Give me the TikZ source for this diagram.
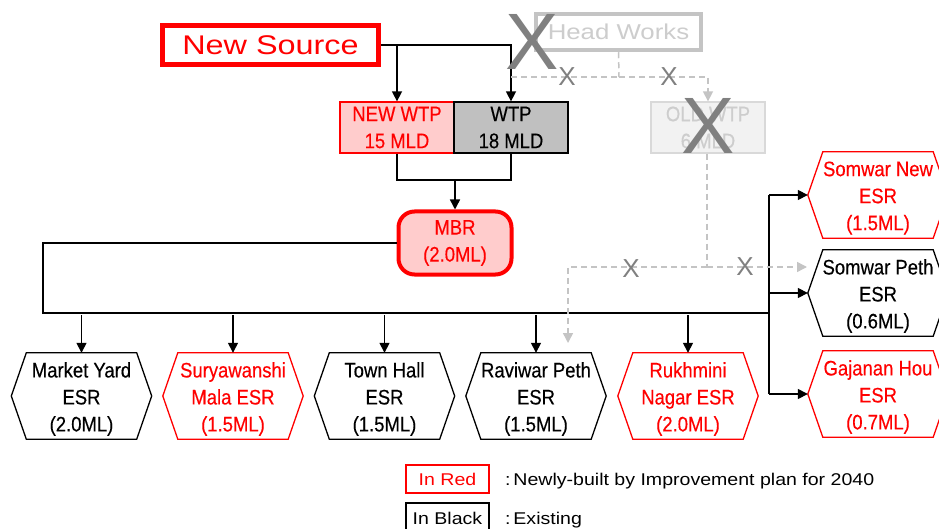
\documentclass[tikz,border=0pt]{standalone}
\usepackage{fontspec}
\setmainfont{Liberation Sans}
\newfontfamily\condfont[FakeStretch=0.88,FakeBold=0.35]{Liberation Sans}
\newfontfamily\widefont[FakeStretch=1.2]{Liberation Sans}
\newfontfamily\legendfont[FakeStretch=1.15]{Liberation Sans}
\usetikzlibrary{arrows.meta,calc}

\definecolor{newred}{RGB}{255,0,0}
\definecolor{pinkfill}{RGB}{255,204,204}
\definecolor{wtpgray}{RGB}{192,192,192}
\definecolor{ghost}{RGB}{196,196,196}
\definecolor{ghosttext}{RGB}{205,205,205}
\definecolor{ghostline}{RGB}{217,217,217}
\definecolor{ghostfill}{RGB}{242,242,242}
\definecolor{crossgray}{RGB}{128,128,128}

\tikzset{
  feed/.style={draw=black, line width=1.5pt, -{Triangle[length=10pt,width=10pt]}},
  mainline/.style={draw=black, line width=2pt},
  thinline/.style={draw=black, line width=1.5pt},
  ghostdash/.style={draw=ghost, line width=1.5pt, dash pattern=on 6pt off 4pt},
  ghostarrow/.style={ghostdash, -{Triangle[length=10pt,width=10pt,fill=ghost]}},
  plantbox/.style={minimum width=114pt, minimum height=51pt, inner sep=0pt, align=center,
    line width=1.3pt, font=\condfont\fontsize{21}{27}\selectfont},
  esr/.style={minimum width=140pt, minimum height=86pt, inner sep=0pt},
  esrlabel/.style={inner sep=0pt, align=center, font=\condfont\fontsize{21}{27}\selectfont},
  hexline/.style={line width=1.3pt},
  bigcross/.style={text=crossgray, font=\fontsize{80}{80}\selectfont, inner sep=0pt},
  smallcross/.style={text=crossgray, font=\fontsize{26}{26}\selectfont, inner sep=0pt},
  legendbox/.style={minimum width=83pt, minimum height=28pt, inner sep=0pt, line width=1.2pt,
    font=\legendfont\fontsize{17}{17}\selectfont},
  legendtext/.style={anchor=west, inner sep=0pt, font=\legendfont\fontsize{17}{17}\selectfont},
}

% hexagonal reservoir node: name, centre, colour, label
\newcommand\esrbox[4]{%
  \node[esr] (#1) at (#2) {};
  \node[esrlabel, text=#3] (#1-label) at ([yshift=-3pt]#1.center) {#4};
  \draw[hexline, draw=#3] (#1.west) -- ([xshift=15pt]#1.north west)
    -- ([xshift=-15pt]#1.north east) -- (#1.east)
    -- ([xshift=-15pt]#1.south east) -- ([xshift=15pt]#1.south west) -- cycle;}

\begin{document}
\begin{tikzpicture}[x=1pt,y=-1pt]
\clip (0,0) rectangle (939,529);
\fill[white] (0,0) rectangle (939,529);

% sources
\node[draw=newred, line width=5pt, minimum width=216pt, minimum height=39pt, inner sep=0pt,
  text=newred, font=\widefont\fontsize{27}{27}\selectfont] (newsrc) at (270.5,45) {New Source};
\node[draw=ghost, line width=4.5pt, minimum width=165pt, minimum height=36pt, inner sep=0pt,
  text=ghosttext, font=\widefont\fontsize{21.5}{21.5}\selectfont] (head) at (618.5,32) {Head Works};

% treatment plants
\node[plantbox, draw=newred, fill=pinkfill, text=newred] (newwtp) at (397,127.5) {NEW WTP\\15 MLD};
\node[plantbox, draw=black, fill=wtpgray, text=black] (wtp) at (511,127.5) {WTP\\18 MLD};
\node[plantbox, draw=ghostline, fill=ghostfill, text=ghosttext] (oldwtp) at (708,127.5) {OLD WTP\\6 MLD};

% master balancing reservoir
\node[draw=newred, fill=pinkfill, line width=4pt, rounded corners=16pt, minimum width=113pt,
  minimum height=63pt, inner sep=0pt, align=center, text=newred,
  font=\condfont\fontsize{21}{27}\selectfont] (mbr) at (455,243) {MBR\\(2.0ML)};

% elevated service reservoirs
\esrbox{mkt}{81.5,396}{black}{Market Yard\\ESR\\(2.0ML)}
\esrbox{sury}{233,396}{newred}{Suryawanshi\\Mala ESR\\(1.5ML)}
\esrbox{town}{384.5,396}{black}{Town Hall\\ESR\\(1.5ML)}
\esrbox{ravi}{536,396}{black}{Raviwar Peth\\ESR\\(1.5ML)}
\esrbox{rukh}{688,396}{newred}{Rukhmini\\Nagar ESR\\(2.0ML)}
\esrbox{somnew}{878,195}{newred}{Somwar New\\ESR\\(1.5ML)}
\esrbox{somp}{878,293}{black}{Somwar Peth\\ESR\\(0.6ML)}
\esrbox{gaj}{878,394}{newred}{Gajanan Hou\\ESR\\(0.7ML)}

% new source to plants
\draw[feed] (newsrc.east) -| (wtp.north);
\draw[feed] (newwtp.north |- newsrc.east) -- (newwtp.north);

% plants to MBR
\coordinate (join) at (455,180);
\draw[thinline] (newwtp.south) |- (join) -| (wtp.south);
\draw[feed] (join) -- (mbr.north);

% distribution ring
\coordinate (ringL) at (43,313);
\coordinate (ringR) at (769,313);
\draw[mainline] (mbr.west) -| (ringL) -- (ringR);
\draw[mainline] (somnew.west -| ringR) -- (gaj.west -| ringR);
\foreach \t in {somnew,somp,gaj}
  \draw[feed] (\t.west -| ringR) -- (\t.west);
\foreach \t in {mkt,sury,town,ravi,rukh}
  \draw[feed] ([yshift=-2pt]\t.north |- ringL) -- (\t.north);

% abandoned old supply (dashed)
\coordinate (hw) at (619,77);
\draw[ghostdash] (head.south) -- (hw);
\draw[ghostdash] (wtp.north |- hw) -- (hw);
\draw[ghostarrow] (hw) -| (oldwtp.north);
\coordinate (od) at (707,267);
\coordinate (odR) at (807,267);
\coordinate (odD) at (568,343);
\draw[ghostdash] (oldwtp.south -| od) -- (od);
\draw[ghostarrow] (od) -- (odR);
\draw[ghostarrow] (od) -| (odD);

% crossings-out
\node[smallcross] (x1) at (567,77) {X};
\node[smallcross] (x2) at (669,77) {X};
\node[smallcross] (x3) at (631,269) {X};
\node[smallcross] (x4) at (745,267) {X};
\node[bigcross] (xhead) at (532,42) {X};
\node[bigcross] (xold) at (708,126) {X};

% legend
\node[legendbox, draw=newred, text=newred] (lgred) at (447.5,479) {In Red};
\node[legendtext] (lgredtxt) at (505,481) {:\,Newly-built by Improvement plan for 2040};
\node[legendbox, draw=black, minimum height=30pt] (lgblack) at (447.5,518) {In Black};
\node[legendtext] (lgblacktxt) at (505,520) {:\,Existing};
\end{tikzpicture}
\end{document}
